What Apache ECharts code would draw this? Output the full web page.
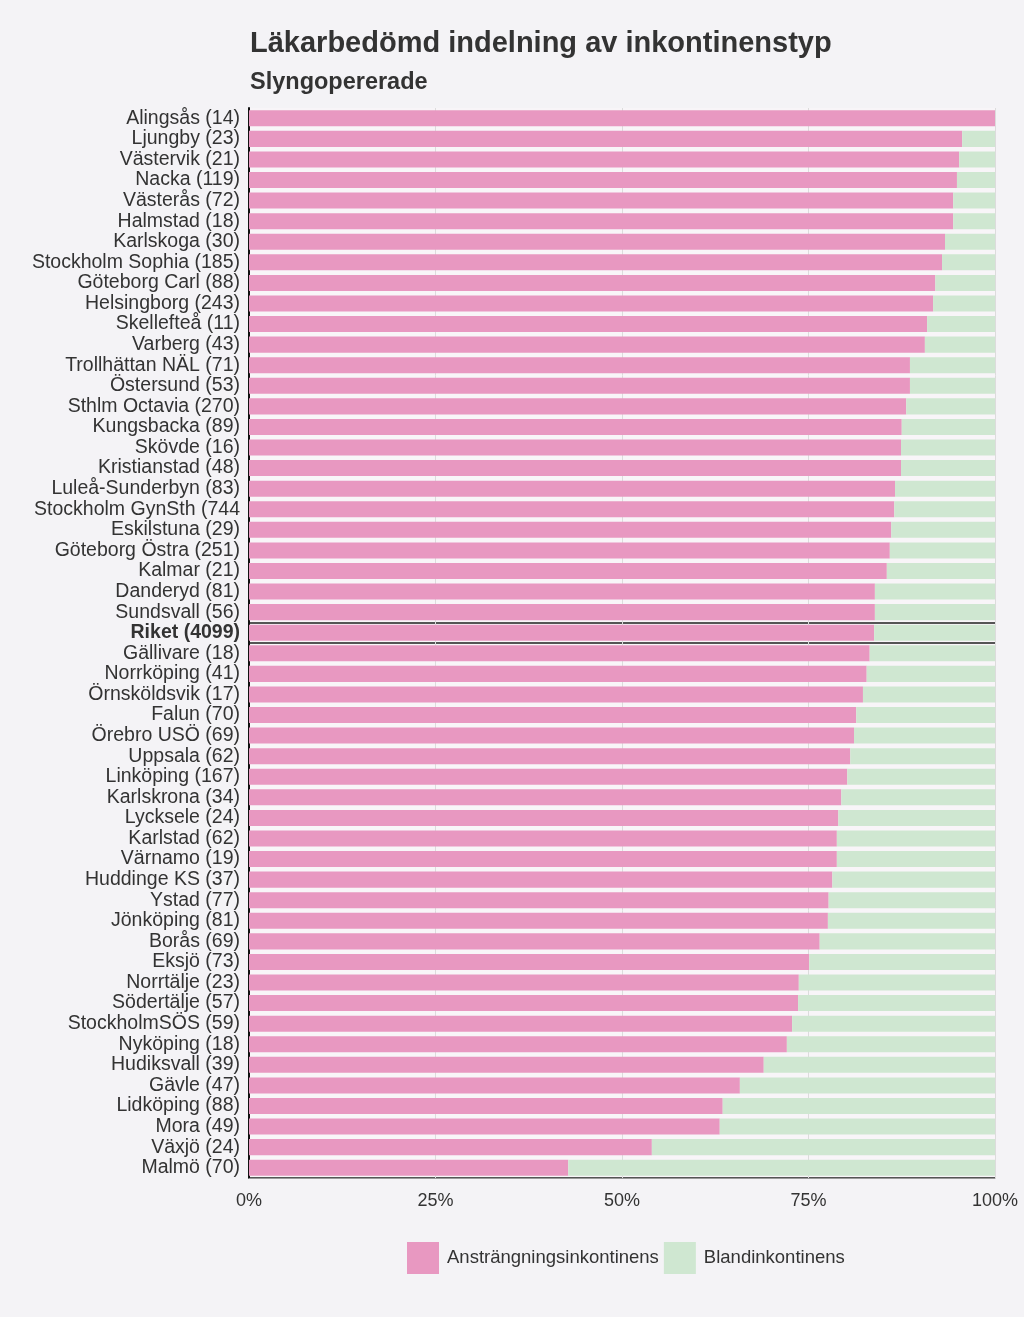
<!DOCTYPE html>
<html><head><meta charset="utf-8">
<script src="https://cdn.jsdelivr.net/npm/echarts@6/dist/echarts.min.js"></script>
<style>html,body{margin:0;padding:0;background:#f4f3f6;}#c{width:1024px;height:1317px;}</style>
</head><body><div id="c"></div>
<script>
const categories = ["Alingsås (14)","Ljungby (23)","Västervik (21)","Nacka (119)","Västerås (72)","Halmstad (18)","Karlskoga (30)","Stockholm Sophia (185)","Göteborg Carl (88)","Helsingborg (243)","Skellefteå (11)","Varberg (43)","Trollhättan NÄL (71)","Östersund (53)","Sthlm Octavia (270)","Kungsbacka (89)","Skövde (16)","Kristianstad (48)","Luleå-Sunderbyn (83)","Stockholm GynSth (744","Eskilstuna (29)","Göteborg Östra (251)","Kalmar (21)","Danderyd (81)","Sundsvall (56)","Riket (4099)","Gällivare (18)","Norrköping (41)","Örnsköldsvik (17)","Falun (70)","Örebro USÖ (69)","Uppsala (62)","Linköping (167)","Karlskrona (34)","Lycksele (24)","Karlstad (62)","Värnamo (19)","Huddinge KS (37)","Ystad (77)","Jönköping (81)","Borås (69)","Eksjö (73)","Norrtälje (23)","Södertälje (57)","StockholmSÖS (59)","Nyköping (18)","Hudiksvall (39)","Gävle (47)","Lidköping (88)","Mora (49)","Växjö (24)","Malmö (70)"];
const anstrangning = [100,95.6,95.2,94.9,94.4,94.4,93.3,92.9,92.0,91.7,90.9,90.6,88.6,88.6,88.1,87.5,87.4,87.4,86.6,86.5,86.1,85.9,85.5,83.9,83.9,83.8,83.2,82.8,82.3,81.4,81.1,80.6,80.2,79.4,79.0,78.8,78.8,78.2,77.7,77.6,76.5,75.1,73.7,73.6,72.8,72.1,69.0,65.8,63.5,63.1,54.0,42.8];
const blandinkontinens = [0,4.4,4.8,5.1,5.6,5.6,6.7,7.1,8.0,8.3,9.1,9.4,11.4,11.4,11.9,12.5,12.6,12.6,13.4,13.5,13.9,14.1,14.5,16.1,16.1,16.2,16.8,17.2,17.7,18.6,18.9,19.4,19.8,20.6,21.0,21.2,21.2,21.8,22.3,22.4,23.5,24.9,26.3,26.4,27.2,27.9,31.0,34.2,36.5,36.9,46.0,57.2];
const xTicks = ["0%","25%","50%","75%","100%"];
const highlight = "Riket (4099)";
const hIdx = categories.indexOf(highlight);

const font = "'Liberation Sans', Arial, sans-serif";
const chart = echarts.init(document.getElementById('c'), null, {renderer:'canvas'});
chart.setOption({
  backgroundColor: '#f4f3f6',
  textStyle: {fontFamily: font},
  title: [
    {text: 'Läkarbedömd indelning av inkontinenstyp', left: 245, top: 24,
     textStyle: {fontSize: 29, fontWeight: 'bold', color: '#333', fontFamily: font}},
    {text: 'Slyngopererade', left: 245, top: 66,
     textStyle: {fontSize: 23.5, fontWeight: 'bold', color: '#333', fontFamily: font}}
  ],
  legend: {
    left: 402, top: 1237, itemWidth: 32, itemHeight: 32, itemGap: 5,
    icon: 'rect',
    textStyle: {fontSize: 18.5, color: '#333', fontFamily: font, padding: [0,0,0,3]},
    data: ['Ansträngningsinkontinens','Blandinkontinens']
  },
  grid: {left: 249, right: 29, top: 108, bottom: 139, show: true, backgroundColor: '#f8f5f8', borderWidth: 0},
  xAxis: {
    type: 'value', min: 0, max: 100, interval: 25,
    axisLine: {show: true, lineStyle: {color: '#999', width: 1}},
    axisTick: {show: false},
    splitLine: {show: true, lineStyle: {color: '#dcdcdc', width: 1}},
    axisLabel: {fontSize: 18, color: '#333', margin: 14, fontFamily: font,
      formatter: v => xTicks[Math.round(v/25)]}
  },
  yAxis: {
    type: 'category', inverse: true, data: categories,
    axisLine: {show: true, lineStyle: {color: '#111', width: 2}},
    axisTick: {show: false},
    splitLine: {show: true, interval: (i) => i === hIdx || i === hIdx + 1, lineStyle: {color: '#555', width: 2}},
    axisLabel: {interval: 0, fontSize: 19.5, color: '#333', margin: 9, fontFamily: font,
      formatter: v => v === highlight ? '{b|' + v + '}' : v,
      rich: {b: {fontWeight: 'bold', fontSize: 19.5, color: '#333', fontFamily: font}}}
  },
  series: [
    {name: 'Ansträngningsinkontinens', type: 'bar', stack: 's', data: anstrangning, barCategoryGap: '22%',
     itemStyle: {color: '#e898c1'}, silent: true, z: 3},
    {name: 'Blandinkontinens', type: 'bar', stack: 's', data: blandinkontinens, barCategoryGap: '22%',
     itemStyle: {color: '#cfe7d1'}, silent: true, z: 3}
  ]
});
</script></body></html>
